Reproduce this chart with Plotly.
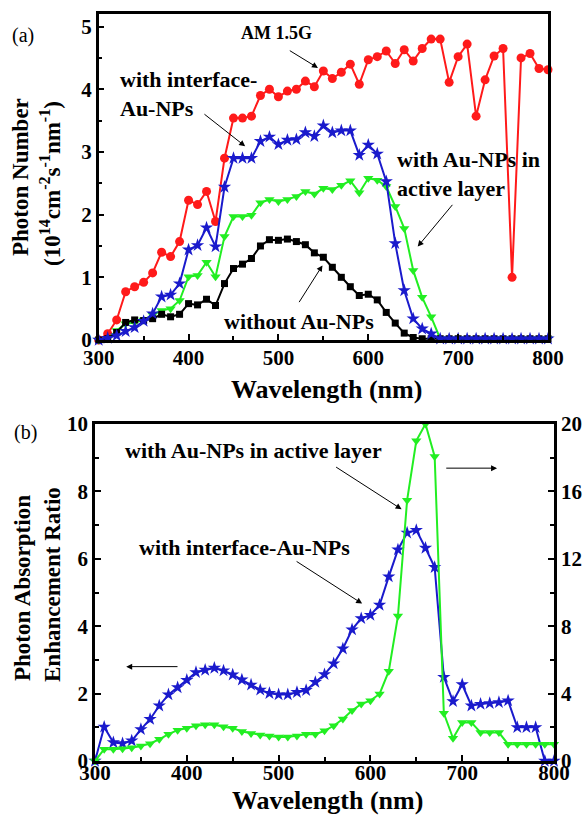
import plotly.graph_objects as go

# ---------------- data ----------------
wavelength = list(range(300, 801, 10))

# panel (a): photon number (10^14 cm^-2 s^-1 nm^-1)
am15g = [0.0, 0.1, 0.32, 0.77, 0.85, 0.92, 1.07, 1.40, 1.33, 1.57, 2.23, 2.16, 2.37, 1.89, 2.90,
         3.54, 3.54, 3.57, 3.90, 4.00, 3.88, 3.97, 4.00, 4.13,
         4.04, 4.29, 4.17, 4.27, 4.40, 4.08, 4.47, 4.52, 4.61, 4.41, 4.63, 4.45, 4.65, 4.80, 4.80,
         4.11, 4.52, 4.72, 3.57, 4.15, 4.53, 4.65, 1.00, 4.50, 4.57, 4.33, 4.31]
interface_np = [0.0, 0.03, 0.07, 0.14, 0.20, 0.30, 0.42, 0.69, 0.72, 0.90, 1.44, 1.51, 1.79, 1.49, 2.44,
                2.90, 2.90, 2.90, 3.17, 3.24, 3.12, 3.19, 3.20, 3.31,
                3.25, 3.42, 3.31, 3.34, 3.34, 2.95, 3.11, 2.97, 2.53, 1.54, 0.79, 0.34, 0.18, 0.10,
                0.02, 0.02, 0.02, 0.02, 0.02, 0.02, 0.02, 0.02, 0.02, 0.02, 0.02, 0.02, 0.02]
active_np = [0.0, 0.02, 0.15, 0.26, 0.28, 0.32, 0.40, 0.47, 0.50, 0.63, 1.01, 1.03, 1.24, 1.01, 1.65,
             1.97, 1.97, 1.99, 2.19, 2.24, 2.21, 2.24, 2.29, 2.37,
             2.33, 2.42, 2.40, 2.47, 2.54, 2.35, 2.58, 2.55, 2.45, 2.13, 1.78, 1.11, 0.68, 0.37,
             0.02, 0.02, 0.02, 0.02, 0.02, 0.02, 0.02, 0.02, 0.02, 0.02, 0.02, 0.02, 0.02]
without_np = [0.0, 0.02, 0.12, 0.28, 0.32, 0.31, 0.34, 0.41, 0.37, 0.41, 0.58, 0.56, 0.65, 0.55, 0.90,
              1.14, 1.21, 1.30, 1.50, 1.60, 1.59, 1.61, 1.57, 1.52,
              1.39, 1.32, 1.16, 1.00, 0.85, 0.71, 0.73, 0.64, 0.44, 0.27, 0.11, 0.04, 0.02, 0.02,
              0.02, 0.02, 0.02, 0.02, 0.02, 0.02, 0.02, 0.02, 0.02, 0.02, 0.02, 0.02, 0.02]

# panel (b): enhancement ratio
enh_interface = [0.0, 1.01, 0.55, 0.52, 0.60, 0.94, 1.24, 1.64, 1.97, 2.18, 2.40, 2.63, 2.70, 2.76, 2.68,
                 2.56, 2.41, 2.26, 2.11, 2.01, 1.97, 1.97, 2.04, 2.10,
                 2.34, 2.57, 2.89, 3.33, 3.90, 4.23, 4.33, 4.63, 5.47, 6.27, 6.77, 6.85, 6.32, 5.75,
                 2.49, 1.77, 2.27, 1.64, 1.69, 1.71, 1.74, 1.79, 1.00, 1.00, 1.00, 0.0, 0.0]
enh_active = [0.0, 0.70, 0.70, 0.73, 0.79, 0.89, 1.03, 1.29, 1.59, 1.83, 1.95, 2.09, 2.15, 2.15, 2.03,
              1.95, 1.75, 1.63, 1.55, 1.49, 1.43, 1.43, 1.49, 1.59,
              1.59, 1.79, 2.09, 2.49, 2.99, 3.38, 3.58, 3.98, 5.33, 8.60, 15.48, 19.0, 20.0, 18.07,
              2.83, 1.35, 2.29, 2.29, 1.69, 1.69, 1.69, 1.0, 1.0, 1.0, 1.0, 1.0, 1.0]

# ---------------- style ----------------
W, H = 583, 816
FONT = "Liberation Serif, Times New Roman, serif"
RED, BLUE, GREEN, BLACK = "#ff1a1a", "#1a1acc", "#22ee22", "#000000"


def px(x):
    return x / W


def py(y):
    return 1 - y / H


fig = go.Figure()


def add_line(x, y, color, symbol, size, xa, ya):
    fig.add_trace(go.Scatter(
        x=x, y=y, mode="lines+markers", xaxis=xa, yaxis=ya,
        line=dict(color=color, width=2),
        marker=dict(symbol=symbol, size=size, color=color, line=dict(width=0)),
        cliponaxis=False, showlegend=False, hoverinfo="skip"))


add_line(wavelength, am15g, RED, "circle", 9, "x", "y")
add_line(wavelength, active_np, GREEN, "triangle-down", 9, "x", "y")
add_line(wavelength, without_np, BLACK, "square", 7, "x", "y")
add_line(wavelength, interface_np, BLUE, "star", 10, "x", "y")

add_line(wavelength, enh_interface, BLUE, "star", 10, "x2", "y2")
add_line(wavelength, enh_active, GREEN, "triangle-down", 9, "x2", "y3")

tickfont = dict(family=FONT, size=21, color="black", weight="bold")
common = dict(showline=True, linewidth=2.5, linecolor="black", ticks="inside", ticklen=6,
              tickwidth=2, tickcolor="black", showgrid=False, zeroline=False, tickfont=tickfont)
minor_style = dict(ticks="inside", ticklen=4, tickwidth=2, tickcolor="black")

fig.update_layout(
    width=W, height=H, margin=dict(l=0, r=0, t=0, b=0, pad=0, autoexpand=False),
    paper_bgcolor="white", plot_bgcolor="white", showlegend=False,
    xaxis=dict(domain=[px(98.7), px(548)], anchor="y", range=[300, 800], tick0=300, dtick=100,
               mirror=True, minor=dict(dtick=50, **minor_style), ticklabelstandoff=-3, **common),
    yaxis=dict(domain=[py(340), py(14)], anchor="x", range=[0, 5.2], tick0=0, dtick=1,
               mirror=True, minor=dict(dtick=0.5, **minor_style), **common),
    xaxis2=dict(domain=[px(95), px(554)], anchor="y2", range=[300, 800], tick0=300, dtick=100,
                mirror=True, minor=dict(dtick=50, **minor_style), ticklabelstandoff=-9, **common),
    yaxis2=dict(domain=[py(761), py(424)], anchor="x2", range=[0, 10], tick0=0, dtick=2,
                minor=dict(dtick=1, **minor_style), **common),
    yaxis3=dict(overlaying="y2", anchor="x2", side="right", range=[0, 20], tick0=0, dtick=4,
                minor=dict(dtick=2, **minor_style), **common),
)


def label(text, x, y, size=22, weight="bold", xanchor="center", angle=0, align="left"):
    fig.add_annotation(text=text, x=px(x), y=py(y), xref="paper", yref="paper",
                       xanchor=xanchor, yanchor="middle", showarrow=False, textangle=angle,
                       align=align, font=dict(family=FONT, size=size, color="black", weight=weight))


def arrow(xh, yh, xt, yt, xr, yr):
    fig.add_annotation(text="", x=xh, y=yh, ax=xt, ay=yt, xref=xr, yref=yr, axref=xr, ayref=yr,
                       showarrow=True, arrowhead=2, arrowsize=1.2, arrowwidth=1, arrowcolor="black")


# panel labels
label("(a)", 23, 36, size=20, weight="normal")
label("(b)", 25, 432, size=20, weight="normal")

# axis titles
label("Photon Number", 20, 177, size=23, angle=-90)
label("(10<sup>14</sup>cm<sup>-2</sup>s<sup>-1</sup>nm<sup>-1</sup>)", 51, 184, size=23, angle=-90)
label("Wavelength (nm)", 326, 389, size=26)
label("Photon Absorption", 22, 588, size=23, angle=-90)
label("Enhancement Ratio", 52, 585, size=23, angle=-90)
label("Wavelength (nm)", 327, 800, size=26)

# panel (a) annotations
label("AM 1.5G", 276, 33, size=18)
label("with interface-<br>Au-NPs", 118, 94, size=22, xanchor="left")
label("with Au-NPs in<br>active layer", 395, 174, size=22, xanchor="left")
label("without Au-NPs", 222, 322, size=22, xanchor="left")
arrow(544, 4.34, 511, 4.63, "x", "y")
arrow(463, 3.09, 416, 3.62, "x", "y")
arrow(655, 1.49, 695, 2.18, "x", "y")
arrow(549, 1.19, 522, 0.58, "x", "y")

# panel (b) annotations
label("with Au-NPs in active layer", 123, 450, size=22, xanchor="left")
label("with interface-Au-NPs", 137, 547, size=22, xanchor="left")
arrow(634, 7.47, 561, 8.75, "x2", "y2")
arrow(591, 4.67, 518, 5.95, "x2", "y2")
arrow(334, 2.80, 391.5, 2.80, "x2", "y2")
arrow(738, 8.69, 681, 8.69, "x2", "y2")

fig.write_html(
    "out.html",
    config={"displayModeBar": False},
    post_script="document.body.style.margin='0px';document.body.style.overflow='hidden';",
)
